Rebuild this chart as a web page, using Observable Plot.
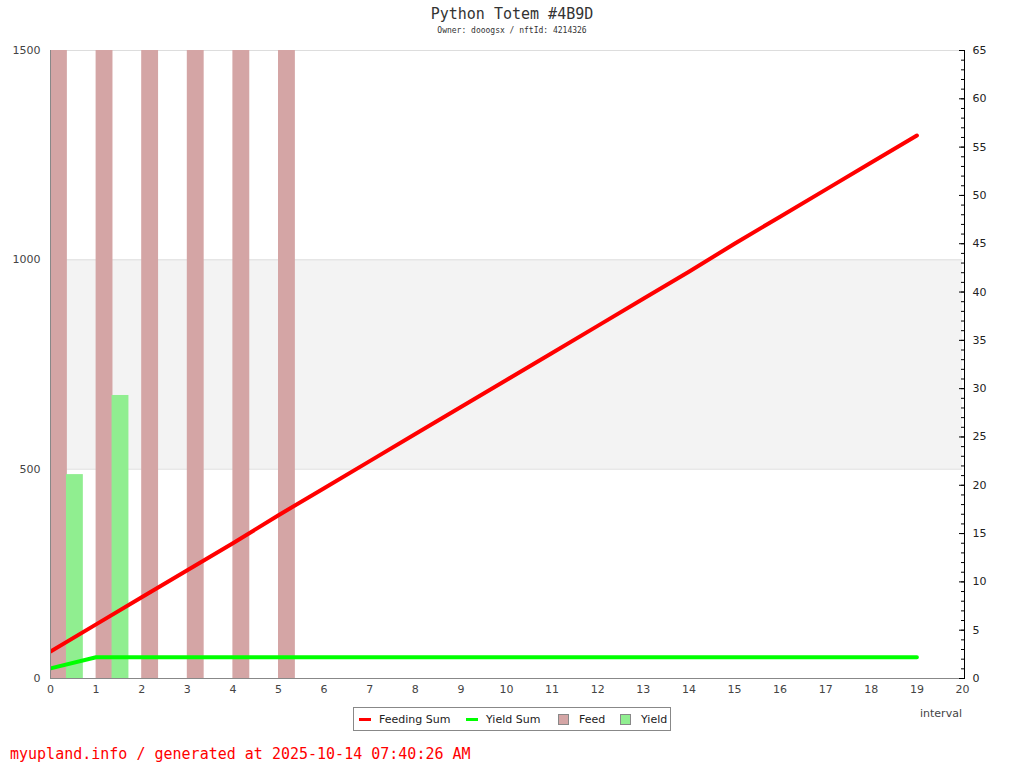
<!DOCTYPE html>
<html>
<head>
<meta charset="utf-8">
<script src="https://cdn.jsdelivr.net/npm/d3@7"></script>
<script src="https://cdn.jsdelivr.net/npm/@observablehq/plot@0.6"></script>
<style>
  html, body { margin: 0; padding: 0; background: #fff; width: 1024px; height: 768px; overflow: hidden; position: relative; }
  #title { position: absolute; top: 5px; left: 0; width: 1024px; text-align: center; font-family: "DejaVu Sans Mono", monospace; font-size: 15px; color: #333; }
  #subtitle { position: absolute; top: 26px; left: 0; width: 1024px; text-align: center; font-family: "DejaVu Sans Mono", monospace; font-size: 8px; color: #333; }
  #chart { position: absolute; top: 0; left: 0; }
  #xlabel { position: absolute; top: 707px; left: 920px; font-family: "DejaVu Sans", sans-serif; font-size: 11px; color: #444; }
  #legend { position: absolute; top: 707px; left: 353px; width: 316px; height: 22px; border: 1px solid #888; font-family: "DejaVu Sans", sans-serif; font-size: 11px; color: #222; box-sizing: content-box; }
  #legend span { position: absolute; top: 5px; white-space: nowrap; }
  #legend i { position: absolute; display: block; }
  #footer { position: absolute; top: 745px; left: 10px; font-family: "DejaVu Sans Mono", monospace; font-size: 15px; color: #ff0000; }
</style>
</head>
<body>
<div id="title"></div>
<div id="subtitle"></div>
<div id="chart"></div>
<div id="xlabel"></div>
<div id="legend"></div>
<div id="footer"></div>
<script>
const titleText = "Python Totem #4B9D";
const subtitleText = "Owner: dooogsx / nftId: 4214326";
const footerText = "myupland.info / generated at 2025-10-14 07:40:26 AM";
const xLabel = "interval";

const intervals = d3.range(0, 20);
// Feed bars (left axis), all exceed the top of the chart
const feedIntervals = [0, 1, 2, 3, 4, 5];
const feedValues = [1800, 1800, 1800, 1800, 1800, 1800];
// Yield bars (left axis)
const yieldIntervals = [0, 1];
const yieldValues = [487, 676];
// Cumulative lines (right axis)
const feedingSum = [2.8, 5.6, 8.4, 11.2, 14.0, 16.9, 19.7, 22.5, 25.3, 28.1, 30.9, 33.7, 36.5, 39.3, 42.1, 45.0, 47.8, 50.6, 53.4, 56.2];
const yieldSum = [1.05, 2.2, 2.2, 2.2, 2.2, 2.2, 2.2, 2.2, 2.2, 2.2, 2.2, 2.2, 2.2, 2.2, 2.2, 2.2, 2.2, 2.2, 2.2, 2.2];

const leftTicks = [0, 500, 1000, 1500];
const rightMajor = d3.range(0, 66, 5);
const rightMinor = d3.range(0, 66, 1);
const xTicks = d3.range(0, 21);
const band = [{y1: 500, y2: 1000}];

const leftMax = 1500, rightMax = 65;
const toLeft = v => v * leftMax / rightMax;
const barW = 0.37, yieldOffset = 0.35;

const colors = {feed: "#d4a5a5", yield: "#90ee90", feedSum: "#ff0000", yieldSum: "#00ff00"};

const feedData = feedIntervals.map((x, i) => ({x, v: feedValues[i]}));
const yieldData = yieldIntervals.map((x, i) => ({x, v: yieldValues[i]}));
const feedSumData = intervals.map((x, i) => ({x, v: toLeft(feedingSum[i])}));
const yieldSumData = intervals.map((x, i) => ({x, v: toLeft(yieldSum[i])}));

const chart = Plot.plot({
  width: 1024,
  height: 700,
  marginTop: 50,
  marginBottom: 22,
  marginLeft: 50,
  marginRight: 62,
  style: {fontFamily: "DejaVu Sans, sans-serif", fontSize: "11px", color: "#444", background: "transparent"},
  x: {domain: [0, 20], axis: null},
  y: {domain: [0, leftMax], axis: null},
  marks: [
    Plot.rectY(band, {x1: 0, x2: 20, y1: "y1", y2: "y2", fill: "#f3f3f3"}),
    Plot.ruleY([500, 1000, 1500], {stroke: "#dddddd"}),
    Plot.rectY(feedData, {x1: "x", x2: d => d.x + barW, y1: 0, y2: "v", fill: colors.feed, clip: true}),
    Plot.rectY(yieldData, {x1: d => d.x + yieldOffset, x2: d => d.x + yieldOffset + barW, y1: 0, y2: "v", fill: colors.yield, clip: true}),
    Plot.line(feedSumData, {x: "x", y: "v", stroke: colors.feedSum, strokeWidth: 4, clip: true}),
    Plot.line(yieldSumData, {x: "x", y: "v", stroke: colors.yieldSum, strokeWidth: 4, clip: true}),
    Plot.ruleX([0], {stroke: "#888"}),
    Plot.ruleY([0], {stroke: "#888"}),
    Plot.ruleX([20], {stroke: "#000", dx: 2}),
    Plot.axisY(leftTicks, {anchor: "left", tickSize: 0, tickPadding: 10, tickFormat: d3.format("d"), fill: "#444", label: null}),
    Plot.axisX(xTicks, {anchor: "bottom", tickSize: 0, tickPadding: 7, tickFormat: d3.format("d"), fill: "#444", label: null}),
    Plot.axisY(rightMinor.map(toLeft), {anchor: "right", tickSize: -4, dx: 2, tickFormat: () => "", stroke: "#000", label: null}),
    Plot.axisY(rightMajor.map(toLeft), {anchor: "right", tickSize: -6, dx: 2, tickPadding: 14, tickFormat: d => String(Math.round(d * rightMax / leftMax)), stroke: "#000", fill: "#222", label: null})
  ]
});
document.getElementById("chart").appendChild(chart);

document.getElementById("title").textContent = titleText;
document.getElementById("subtitle").textContent = subtitleText;
document.getElementById("footer").textContent = footerText;
document.getElementById("xlabel").textContent = xLabel;

const legendItems = [
  {label: "Feeding Sum", color: colors.feedSum, kind: "line", x: 5},
  {label: "Yield Sum", color: colors.yieldSum, kind: "line", x: 112},
  {label: "Feed", color: colors.feed, kind: "box", x: 205},
  {label: "Yield", color: colors.yield, kind: "box", x: 267}
];
const legend = document.getElementById("legend");
legendItems.forEach(it => {
  const sw = document.createElement("i");
  if (it.kind === "line") {
    Object.assign(sw.style, {left: it.x + "px", top: "10px", width: "12px", height: "3px", background: it.color});
  } else {
    Object.assign(sw.style, {left: (it.x - 1) + "px", top: "6px", width: "9px", height: "9px", background: it.color, border: "1px solid #888"});
  }
  legend.appendChild(sw);
  const t = document.createElement("span");
  t.textContent = it.label;
  t.style.left = (it.x + 20) + "px";
  legend.appendChild(t);
});
</script>
</body>
</html>
